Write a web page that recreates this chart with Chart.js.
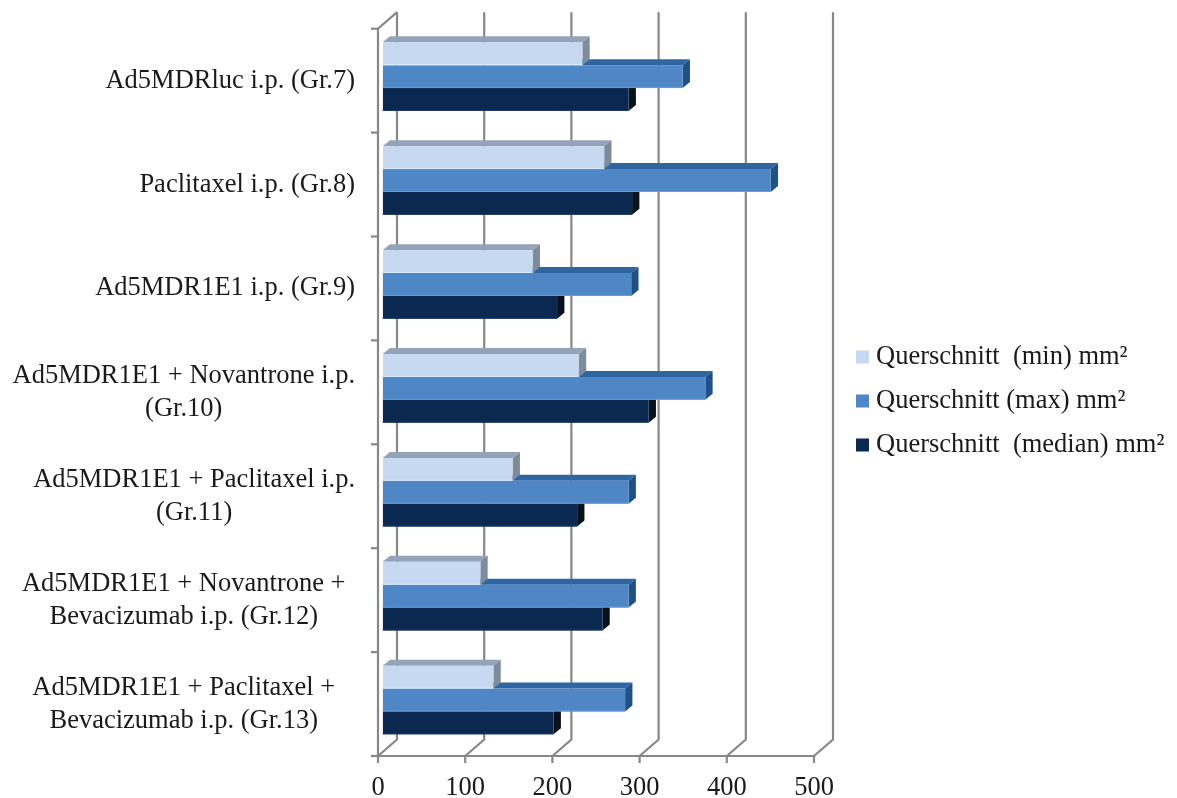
<!DOCTYPE html>
<html>
<head>
<meta charset="utf-8">
<script src="https://cdn.jsdelivr.net/npm/chart.js@4.4.1/dist/chart.umd.min.js"></script>
<style>
  html, body { margin: 0; padding: 0; background: #ffffff; }
  canvas { display: block; }
</style>
</head>
<body>
<canvas id="chart" width="1177" height="798"></canvas>
<script>
// Tumour cross-section per treatment group
const categories = [
  ['Ad5MDRluc i.p. (Gr.7)'],
  ['Paclitaxel i.p. (Gr.8)'],
  ['Ad5MDR1E1 i.p. (Gr.9)'],
  ['Ad5MDR1E1 + Novantrone i.p.', '(Gr.10)'],
  ['Ad5MDR1E1 + Paclitaxel i.p.', '(Gr.11)'],
  ['Ad5MDR1E1 + Novantrone +', 'Bevacizumab i.p. (Gr.12)'],
  ['Ad5MDR1E1 + Paclitaxel +', 'Bevacizumab i.p. (Gr.13)']
];
const seriesNames = ['Querschnitt  (min) mm²', 'Querschnitt (max) mm²', 'Querschnitt  (median) mm²'];
const minValues = [229, 254, 172, 225, 149, 112, 127];
const maxValues = [344, 445, 285, 370, 282, 282, 278];
const medianValues = [282, 286, 200, 305, 223, 252, 196];
const xTicks = [0, 100, 200, 300, 400, 500];

const FONT = "'Liberation Serif', 'Times New Roman', serif";
const TEXT = '#1a1a1a';
const GRID = '#878787';
// Offsets of the walls and of the bar depth, relative to the bar face plane
const FRONT = { dx: -4.7, dy: 4 };
const BACK = { dx: 14.3, dy: -12.5 };
const DEPTH = { dx: 7.3, dy: -6 };

const faces = [
  { front: '#c6d9f1', top: '#95a3b8', side: '#7e8b9d', edge: '#dce8f7' },
  { front: '#4f86c6', top: '#2f66a2', side: '#215184', edge: '#6f9dd3' },
  { front: '#0b2850', top: '#08182f', side: '#08121c', edge: '#1d3a63' }
];

function poly(ctx, pts, fill) {
  ctx.beginPath();
  ctx.moveTo(pts[0][0], pts[0][1]);
  for (let i = 1; i < pts.length; i++) ctx.lineTo(pts[i][0], pts[i][1]);
  ctx.closePath();
  ctx.fillStyle = fill;
  ctx.fill();
}

const frame3d = {
  id: 'frame3d',
  beforeDatasetsDraw(chart) {
    const ctx = chart.ctx;
    const xs = chart.scales.x;
    const top = chart.chartArea.top;
    const bottom = chart.chartArea.bottom;
    ctx.save();
    ctx.strokeStyle = GRID;
    ctx.lineWidth = 2.2;
    ctx.lineCap = 'butt';
    ctx.lineJoin = 'miter';

    // back wall gridlines and floor diagonals
    xTicks.forEach(v => {
      const p = xs.getPixelForValue(v);
      ctx.beginPath();
      ctx.moveTo(p + BACK.dx, top + BACK.dy);
      ctx.lineTo(p + BACK.dx, bottom + BACK.dy);
      ctx.lineTo(p + FRONT.dx, bottom + FRONT.dy);
      ctx.stroke();
      // tick below the front floor edge
      ctx.beginPath();
      ctx.moveTo(p + FRONT.dx, bottom + FRONT.dy);
      ctx.lineTo(p + FRONT.dx, bottom + FRONT.dy + 7);
      ctx.stroke();
    });

    // front floor edge
    const x0 = xs.getPixelForValue(0);
    const x5 = xs.getPixelForValue(500);
    ctx.beginPath();
    ctx.moveTo(x0 + FRONT.dx - 7, bottom + FRONT.dy);
    ctx.lineTo(x5 + FRONT.dx, bottom + FRONT.dy);
    ctx.stroke();

    // left wall: front edge, top edge, category ticks
    ctx.beginPath();
    ctx.moveTo(x0 + BACK.dx, top + BACK.dy);
    ctx.lineTo(x0 + FRONT.dx, top + FRONT.dy);
    ctx.lineTo(x0 + FRONT.dx, bottom + FRONT.dy);
    ctx.stroke();
    const band = (bottom - top) / categories.length;
    for (let i = 0; i <= categories.length; i++) {
      const y = top + i * band + FRONT.dy;
      ctx.beginPath();
      ctx.moveTo(x0 + FRONT.dx - 7, y);
      ctx.lineTo(x0 + FRONT.dx, y);
      ctx.stroke();
    }

    // bar top and side faces, lower bars first
    for (let d = chart.data.datasets.length - 1; d >= 0; d--) {
      const meta = chart.getDatasetMeta(d);
      meta.data.forEach(el => {
        const { x, y, base, height } = el.getProps(['x', 'y', 'base', 'height'], true);
        const yt = y - height / 2;
        const yb = y + height / 2;
        poly(ctx, [[base, yt], [x, yt], [x + DEPTH.dx, yt + DEPTH.dy], [base + DEPTH.dx, yt + DEPTH.dy]], faces[d].top);
        poly(ctx, [[x, yt], [x + DEPTH.dx, yt + DEPTH.dy], [x + DEPTH.dx, yb + DEPTH.dy], [x, yb]], faces[d].side);
      });
    }
    ctx.restore();
  },
  afterDatasetsDraw(chart) {
    // thin highlight along the lower edge of each bar face
    const ctx = chart.ctx;
    ctx.save();
    ctx.lineWidth = 1;
    chart.data.datasets.forEach((ds, d) => {
      ctx.strokeStyle = faces[d].edge;
      chart.getDatasetMeta(d).data.forEach(el => {
        const { x, y, base, height } = el.getProps(['x', 'y', 'base', 'height'], true);
        const yb = y + height / 2 - 0.5;
        ctx.beginPath();
        ctx.moveTo(base, yb);
        ctx.lineTo(x, yb);
        ctx.stroke();
      });
    });
    ctx.restore();
  },
  afterDraw(chart) {
    const ctx = chart.ctx;
    const xs = chart.scales.x;
    const ys = chart.scales.y;
    ctx.save();
    ctx.fillStyle = TEXT;
    ctx.textBaseline = 'middle';

    // category labels: single lines sit against the axis, wrapped lines are centred
    ctx.font = '26.5px ' + FONT;
    const right = xs.getPixelForValue(0) + FRONT.dx - 23;
    const lineH = 33;
    let column = 0;
    categories.forEach(lines => lines.forEach(t => { column = Math.max(column, ctx.measureText(t).width); }));
    categories.forEach((lines, i) => {
      const cy = ys.getPixelForTick(i) + FRONT.dy;
      const widest = Math.max(...lines.map(t => ctx.measureText(t).width));
      const y0 = cy - (lines.length - 1) * lineH / 2;
      if (lines.length === 1) {
        ctx.textAlign = 'right';
        ctx.fillText(lines[0], right, y0);
        return;
      }
      const cx = lines[0].trim().endsWith('+') ? right - column / 2 : right - widest / 2;
      ctx.textAlign = 'center';
      lines.forEach((t, k) => ctx.fillText(t, cx, y0 + k * lineH));
    });

    // legend
    ctx.font = '26.5px ' + FONT;
    ctx.textAlign = 'left';
    const lx = 856;
    const ly = 357;
    chart.data.datasets.forEach((ds, i) => {
      const y = ly + i * 44;
      ctx.fillStyle = ds.backgroundColor;
      ctx.fillRect(lx, y - 6.5, 13, 13);
      ctx.fillStyle = TEXT;
      ctx.fillText(ds.label, lx + 20, y);
    });
    ctx.restore();
  }
};

const valueSets = [minValues, maxValues, medianValues];

new Chart(document.getElementById('chart'), {
  type: 'bar',
  data: {
    labels: categories,
    datasets: valueSets.map((vals, i) => ({
      label: seriesNames[i],
      data: vals,
      backgroundColor: faces[i].front,
      borderWidth: 0,
      barPercentage: 1,
      categoryPercentage: 0.66
    }))
  },
  options: {
    indexAxis: 'y',
    responsive: false,
    animation: false,
    layout: { padding: { left: 382.7, right: 358.3, top: 24.7, bottom: 0 } },
    plugins: {
      legend: { display: false },
      tooltip: { enabled: false }
    },
    scales: {
      x: {
        type: 'linear',
        min: 0,
        max: 500,
        afterBuildTicks: s => { s.ticks = xTicks.map(v => ({ value: v })); },
        afterFit: s => { s.height = 46; },
        grid: { display: false, drawTicks: false },
        border: { display: false },
        ticks: {
          font: { family: FONT, size: 26.5 },
          color: TEXT,
          padding: 20,
          labelOffset: -4.7,
          maxRotation: 0
        }
      },
      y: {
        type: 'category',
        display: false,
        offset: true
      }
    }
  },
  plugins: [frame3d]
});
</script>
</body>
</html>
